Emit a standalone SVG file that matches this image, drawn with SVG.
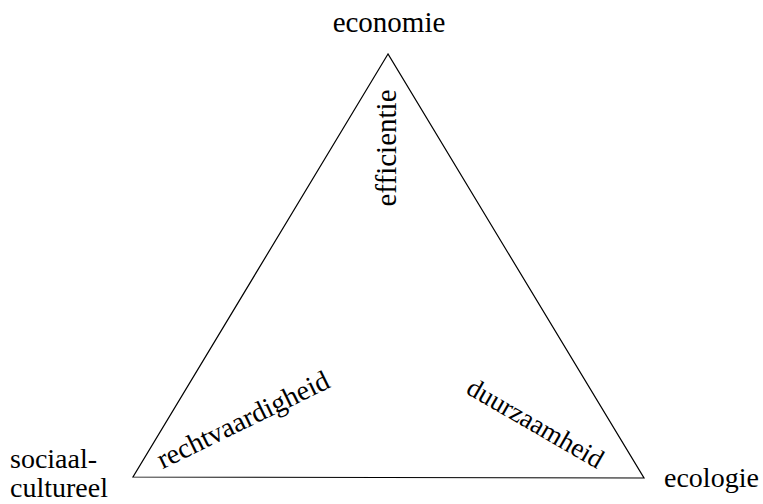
<svg xmlns="http://www.w3.org/2000/svg" width="763" height="504" viewBox="0 0 763 504">
<style>
text{font-family:"Liberation Serif","Times New Roman",serif;font-size:28px;fill:#000}
.big{font-size:29px}
.edge{fill:none;stroke:#000;stroke-width:1.2}
</style>
<rect width="763" height="504" fill="#fff"/>
<g id="connectors">
<polygon class="edge" points="388,54 133,477 644,478"/>
</g>
<g id="node-economie"><text class="big" x="389" y="32" text-anchor="middle">economie</text></g>
<g id="node-sociaal"><text x="10" y="468">sociaal-</text><text x="10" y="497">cultureel</text></g>
<g id="node-ecologie"><text x="664" y="487">ecologie</text></g>
<g id="label-efficientie"><text class="big" transform="translate(396,148) rotate(-90)" text-anchor="middle">efficientie</text></g>
<g id="label-rechtvaardigheid"><text transform="translate(247,428) rotate(-26)" text-anchor="middle">rechtvaardigheid</text></g>
<g id="label-duurzaamheid"><text style="font-size:27px" transform="translate(531,431) rotate(30)" text-anchor="middle">duurzaamheid</text></g>
</svg>
